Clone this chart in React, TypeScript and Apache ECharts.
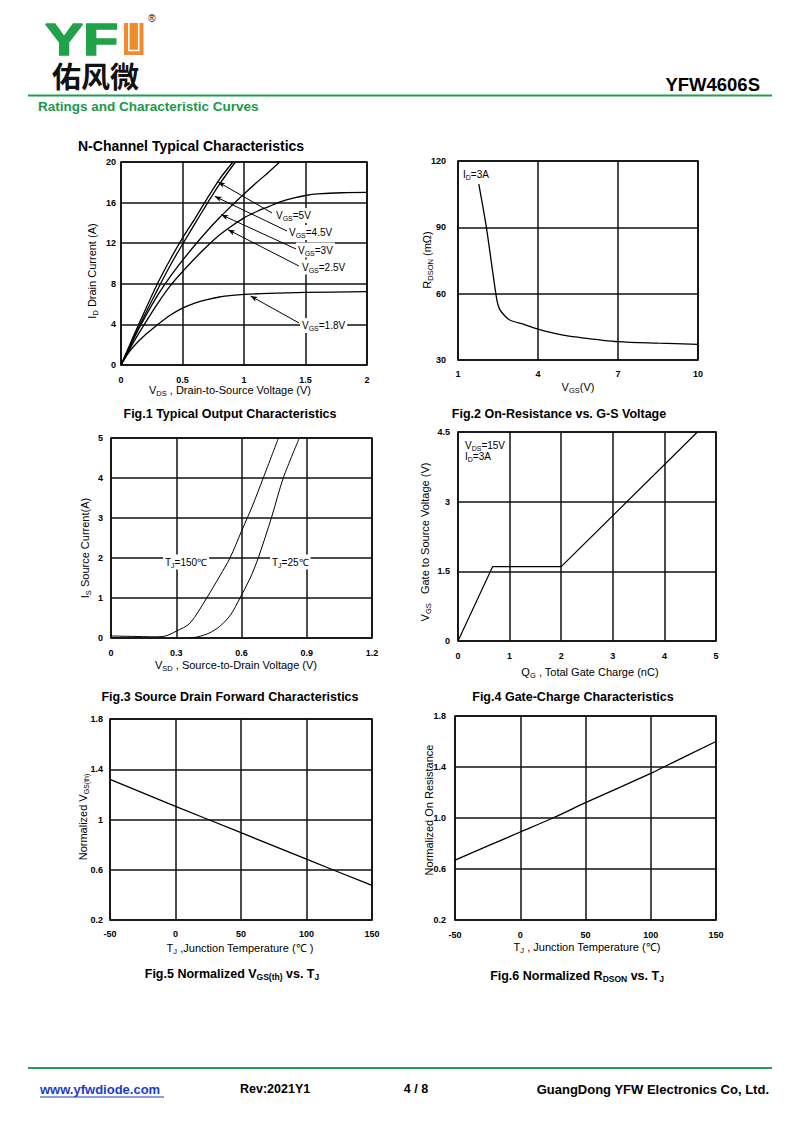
import React, { useEffect, useRef } from "react";
import * as echarts from "echarts";

const FONT = "'Liberation Sans', Arial, sans-serif";
const GREEN = "#1f9d50";
const GREEN_TEXT = "#179a48";
const ORANGE = "#f08a2a";

// ---------- Fig.1 Typical Output Characteristics ----------
const fig1Vds5 = [0, 0.1, 0.2, 0.3, 0.4, 0.5, 0.6, 0.7, 0.8, 0.91];
const fig1Id5 = [0, 2.8, 5.5, 8.1, 10.4, 12.5, 14.4, 16.4, 18.3, 20];
const fig1Vds45 = [0, 0.1, 0.2, 0.3, 0.4, 0.5, 0.6, 0.7, 0.8, 0.93];
const fig1Id45 = [0, 2.6, 5.1, 7.5, 9.8, 11.9, 13.9, 15.9, 17.8, 20];
const fig1Vds3 = [0, 0.1, 0.2, 0.3, 0.4, 0.5, 0.6, 0.7, 0.8, 0.9, 1.0, 1.1, 1.2, 1.29];
const fig1Id3 = [0, 2.5, 4.8, 6.9, 8.7, 10.3, 11.8, 13.2, 14.5, 15.7, 16.85, 17.95, 19.0, 20];
const fig1Vds25 = [0, 0.1, 0.2, 0.3, 0.4, 0.5, 0.6, 0.7, 0.8, 0.9, 1.0, 1.1, 1.2, 1.3, 1.4, 1.5, 1.6, 1.8, 2.0];
const fig1Id25 = [0, 2.2, 4.2, 6.1, 7.8, 9.2, 10.5, 11.7, 12.8, 13.7, 14.5, 15.1, 15.6, 16.1, 16.45, 16.7, 16.85, 16.97, 17.0];
const fig1Vds18 = [0, 0.05, 0.1, 0.2, 0.3, 0.4, 0.5, 0.6, 0.7, 0.8, 0.9, 1.0, 1.2, 1.5, 2.0];
const fig1Id18 = [0, 1.0, 1.8, 3.0, 4.0, 4.9, 5.6, 6.1, 6.45, 6.7, 6.85, 6.95, 7.05, 7.15, 7.22];
// arrows: [tailX, tailY, tipX, tipY]
const fig1Arrows = [
  [1.228, 14.98, 0.789, 18.03],
  [1.35, 13.2, 0.762, 16.62],
  [1.423, 11.43, 0.815, 14.81],
  [1.447, 9.75, 0.87, 13.33],
  [1.447, 4.14, 1.053, 6.8],
];
const fig1Labels = ["=5V", "=4.5V", "=3V", "=2.5V", "=1.8V"];
const fig1XTicks = ["0", "0.5", "1", "1.5", "2"];
const fig1YTicks = ["0", "4", "8", "12", "16", "20"];

// ---------- Fig.2 On-Resistance vs. G-S Voltage ----------
const fig2Vgs = [1.78, 2.06, 2.3, 2.46, 2.56, 2.75, 2.94, 3.5, 4, 4.8, 5.5, 7, 8.5, 10];
const fig2Rdson = [109.5, 90.3, 70, 57, 53, 50, 48.1, 46, 44, 41.6, 40.3, 38.3, 37.6, 37.1];
const fig2XTicks = ["1", "4", "7", "10"];
const fig2YTicks = ["30", "60", "90", "120"];

// ---------- Fig.3 Source Drain Forward Characteristics ----------
const fig3Vsd150 = [0, 0.1, 0.2, 0.25, 0.3, 0.363, 0.44, 0.5, 0.547, 0.6, 0.65, 0.7, 0.77];
const fig3Is150 = [0.05, 0.04, 0.03, 0.05, 0.17, 0.37, 1.0, 1.55, 2.0, 2.67, 3.3, 4.0, 5.0];
const fig3Vsd25 = [0.36, 0.4, 0.45, 0.5, 0.55, 0.593, 0.64, 0.677, 0.74, 0.792, 0.866];
const fig3Is25 = [0, 0.03, 0.12, 0.29, 0.58, 1.0, 1.5, 2.0, 3.05, 4.0, 5.0];
const fig3XTicks = ["0", "0.3", "0.6", "0.9", "1.2"];
const fig3YTicks = ["0", "1", "2", "3", "4", "5"];

// ---------- Fig.4 Gate-Charge Characteristics ----------
const fig4Qg = [0, 0.67, 2.0, 4.64];
const fig4Vgs = [0, 1.6, 1.6, 4.5];
const fig4XTicks = ["0", "1", "2", "3", "4", "5"];
const fig4YTicks = ["0", "1.5", "3", "4.5"];

// ---------- Fig.5 Normalized VGS(th) vs. TJ ----------
const fig5Tj = [-50, 0, 25, 50, 100, 120, 150];
const fig5Vth = [1.32, 1.105, 1.0, 0.895, 0.685, 0.6, 0.475];
const fig5XTicks = ["-50", "0", "50", "100", "150"];
const fig5YTicks = ["0.2", "0.6", "1", "1.4", "1.8"];

// ---------- Fig.6 Normalized RDSON vs. TJ ----------
const fig6Tj = [-50, 0, 25, 50, 100, 110, 150];
const fig6Rdson = [0.67, 0.89, 1.0, 1.12, 1.35, 1.4, 1.6];
const fig6XTicks = ["-50", "0", "50", "100", "150"];
const fig6YTicks = ["0.2", "0.6", "1.0", "1.4", "1.8"];

const grids = [
  { left: 121, top: 162, width: 246, height: 203 },
  { left: 458, top: 161, width: 240, height: 199 },
  { left: 111, top: 438, width: 261, height: 200 },
  { left: 458, top: 432, width: 258, height: 209 },
  { left: 110, top: 719, width: 262, height: 201 },
  { left: 455, top: 716, width: 261, height: 204 },
];

const axesSpec = [
  { x: [0, 2, 0.5, fig1XTicks, 10], y: [0, 20, 4, fig1YTicks, 5] },
  { x: [1, 10, 3, fig2XTicks, 9], y: [30, 120, 30, fig2YTicks, 12] },
  { x: [0, 1.2, 0.3, fig3XTicks, 10], y: [0, 5, 1, fig3YTicks, 8] },
  { x: [0, 5, 1, fig4XTicks, 10], y: [0, 4.5, 1.5, fig4YTicks, 8] },
  { x: [-50, 150, 50, fig5XTicks, 9], y: [0.2, 1.8, 0.4, fig5YTicks, 7] },
  { x: [-50, 150, 50, fig6XTicks, 10], y: [0.2, 1.8, 0.4, fig6YTicks, 9] },
];

function makeAxis(i: number, spec: any[]) {
  const [min, max, interval, ticks, margin] = spec;
  return {
    type: "value",
    gridIndex: i,
    min,
    max,
    interval,
    axisLine: { show: false },
    axisTick: { show: false },
    splitLine: { show: true, lineStyle: { color: "#111", width: 1.5 } },
    axisLabel: {
      margin,
      fontSize: 9,
      fontWeight: "bold",
      fontFamily: FONT,
      color: "#000",
      formatter: (v: number) => ticks[Math.round((v - min) / interval)] ?? "",
    },
  };
}

function lineSeries(i: number, xs: number[], ys: number[], smooth: any, extra: any = {}) {
  return {
    type: "line",
    xAxisIndex: i,
    yAxisIndex: i,
    data: xs.map((x, k) => [x, ys[k]]),
    showSymbol: false,
    symbol: "none",
    smooth,
    silent: true,
    z: 3,
    lineStyle: { color: "#000", width: 1.3 },
    ...extra,
  };
}

const rich = (n: number, s: number, bold = false) => ({
  n: { fontSize: n, lineHeight: n + 3, fontFamily: FONT, fontWeight: bold ? "bold" : "normal", fill: "#000" },
  s: { fontSize: s, lineHeight: s + 1, fontFamily: FONT, fontWeight: bold ? "bold" : "normal", fill: "#000", verticalAlign: "bottom" },
});

function txt(x: number, y: number, text: string, o: any = {}) {
  const { size = 11, sub = 7.5, bold = false, align = "center", vAlign = "middle", rotation = 0, fill = "#000", bg, family = FONT } = o;
  const style: any = {
    text,
    fontSize: size,
    fontFamily: family,
    fontWeight: bold ? "bold" : "normal",
    fill,
    align,
    verticalAlign: vAlign,
    rich: rich(size, sub, bold),
  };
  if (bg) {
    style.backgroundColor = bg;
    style.padding = [1, 2, 1, 2];
  }
  if (fill !== "#000") {
    style.rich.n.fill = fill;
    style.rich.s.fill = fill;
  }
  return { type: "text", x, y, rotation, z: 100, style, silent: true };
}

function hline(x1: number, x2: number, y: number, color: string, w: number) {
  return { type: "line", z: 100, silent: true, shape: { x1, y1: y, x2, y2: y }, style: { stroke: color, lineWidth: w } };
}

const option: any = {
  animation: false,
  backgroundColor: "#fff",
  grid: grids.map((g) => ({ ...g, show: true, borderColor: "#000", borderWidth: 1.6, backgroundColor: "transparent", containLabel: false })),
  xAxis: axesSpec.map((a, i) => makeAxis(i, a.x)),
  yAxis: axesSpec.map((a, i) => makeAxis(i, a.y)),
  series: [
    lineSeries(0, fig1Vds5, fig1Id5, 0.2, {
      markLine: {
        silent: true,
        symbol: ["none", "arrow"],
        symbolSize: [4, 7],
        label: { show: false },
        lineStyle: { color: "#000", width: 1, type: "solid" },
        data: fig1Arrows.map((a) => [{ coord: [a[0], a[1]] }, { coord: [a[2], a[3]] }]),
      },
    }),
    lineSeries(0, fig1Vds45, fig1Id45, 0.2),
    lineSeries(0, fig1Vds3, fig1Id3, 0.3),
    lineSeries(0, fig1Vds25, fig1Id25, 0.3),
    lineSeries(0, fig1Vds18, fig1Id18, 0.3),
    lineSeries(1, fig2Vgs, fig2Rdson, 0.3),
    lineSeries(2, fig3Vsd150, fig3Is150, 0.3, { lineStyle: { color: "#000", width: 1 } }),
    lineSeries(2, fig3Vsd25, fig3Is25, 0.3, { lineStyle: { color: "#000", width: 1 } }),
    lineSeries(3, fig4Qg, fig4Vgs, false, { lineStyle: { color: "#000", width: 1.2 } }),
    lineSeries(4, fig5Tj, fig5Vth, false),
    lineSeries(5, fig6Tj, fig6Rdson, 0.3),
  ],
  graphic: [
    // logo
    {
      type: "text", x: 45, y: 40, scaleX: 1.3, z: 100, silent: true,
      style: { text: "YF", fontSize: 44, fontWeight: "bold", fontFamily: FONT, fill: "#21a249", stroke: "#21a249", lineWidth: 1.6, verticalAlign: "middle" },
    },
    { type: "rect", z: 100, silent: true, shape: { x: 124, y: 23, width: 19.5, height: 32 }, style: { fill: ORANGE } },
    {
      type: "polyline", z: 101, silent: true,
      shape: { points: [[128.8, 23], [128.8, 50.5], [138.7, 50.5], [138.7, 23]] },
      style: { stroke: "#fff", lineWidth: 1.6, fill: "none" },
    },
    txt(152, 18, "®", { size: 10 }),
    txt(52, 75, "佑风微", { size: 29, bold: true, align: "left", family: "'Noto Sans CJK SC', sans-serif", fill: "#111" }),
    txt(760, 84, "YFW4606S", { size: 18.5, bold: true, align: "right" }),
    hline(28, 772, 95.5, GREEN, 2),
    txt(38, 106, "Ratings and Characteristic Curves", { size: 13.5, bold: true, align: "left", fill: GREEN_TEXT }),
    txt(78, 146, "N-Channel Typical Characteristics", { size: 14, bold: true, align: "left" }),

    // Fig.1 texts
    txt(230, 390, "{n|V}{s|DS}{n| , Drain-to-Source Voltage (V)}", { size: 11 }),
    txt(92, 271, "{n|I}{s|D}{n| Drain Current (A)}", { size: 11, rotation: Math.PI / 2 }),
    ...fig1Labels.map((l, k) =>
      txt([274, 287, 296, 300, 300][k], [215.5, 232.5, 250, 267, 325.5][k], "{n|V}{s|GS}{n|" + l + "}", { size: 10, sub: 7, align: "left", bg: "#fff" })
    ),
    txt(230, 414, "Fig.1 Typical Output Characteristics", { size: 12.5, bold: true }),

    // Fig.2 texts
    txt(463, 174, "{n|I}{s|D}{n|=3A}", { size: 10, sub: 7, align: "left" }),
    txt(578, 387, "{n|V}{s|GS}{n|(V)}", { size: 11 }),
    txt(427, 260, "{n|R}{s|DSON}{n| (mΩ)}", { size: 11, rotation: Math.PI / 2 }),
    txt(559, 414, "Fig.2 On-Resistance vs. G-S Voltage", { size: 12.5, bold: true }),

    // Fig.3 texts
    txt(163, 562, "{n|T}{s|J}{n|=150℃}", { size: 10, sub: 7, align: "left", bg: "#fff" }),
    txt(270, 562, "{n|T}{s|J}{n|=25℃}", { size: 10, sub: 7, align: "left", bg: "#fff" }),
    txt(236, 665, "{n|V}{s|SD}{n| , Source-to-Drain Voltage (V)}", { size: 11 }),
    txt(85, 548, "{n|I}{s|S}{n| Source Current(A)}", { size: 11, rotation: Math.PI / 2 }),
    txt(230, 697, "Fig.3 Source Drain Forward Characteristics", { size: 12.5, bold: true }),

    // Fig.4 texts
    txt(465, 445, "{n|V}{s|DS}{n|=15V}", { size: 10, sub: 7, align: "left" }),
    txt(465, 456, "{n|I}{s|D}{n|=3A}", { size: 10, sub: 7, align: "left" }),
    txt(590, 672, "{n|Q}{s|G}{n| , Total Gate Charge (nC)}", { size: 11 }),
    txt(425, 542, "{n|V}{s|GS}{n|   Gate to Source Voltage (V)}", { size: 11, rotation: Math.PI / 2 }),
    txt(573, 697, "Fig.4 Gate-Charge Characteristics", { size: 12.5, bold: true }),

    // Fig.5 texts
    txt(240, 948, "{n|T}{s|J}{n| ,Junction Temperature (℃ )}", { size: 11 }),
    txt(83, 817, "{n|Normalized V}{s|GS(th)}", { size: 11, sub: 7, rotation: Math.PI / 2 }),
    txt(232, 974, "{n|Fig.5 Normalized V}{s|GS(th)}{n| vs. T}{s|J}", { size: 12.5, sub: 8.5, bold: true }),

    // Fig.6 texts
    txt(587, 947, "{n|T}{s|J}{n| , Junction Temperature (℃)}", { size: 11 }),
    txt(429, 810, "Normalized On Resistance", { size: 11, rotation: Math.PI / 2 }),
    txt(577, 976, "{n|Fig.6 Normalized R}{s|DSON}{n| vs. T}{s|J}", { size: 12.5, sub: 8.5, bold: true }),

    // footer
    hline(28, 772, 1068, GREEN, 2),
    txt(40, 1089, "www.yfwdiode.com", { size: 13, bold: true, align: "left", fill: "#1a3cc8" }),
    hline(40, 164, 1097, "#1a3cc8", 1),
    txt(240, 1089, "Rev:2021Y1", { size: 12.5, bold: true, align: "left" }),
    txt(416, 1089, "4 / 8", { size: 12.5, bold: true }),
    txt(769, 1089, "GuangDong YFW Electronics Co, Ltd.", { size: 13, bold: true, align: "right" }),
  ],
};

export default function App() {
  const ref = useRef<HTMLDivElement>(null);
  useEffect(() => {
    const chart = echarts.init(ref.current!, null, { renderer: "svg" });
    chart.setOption(option);
    return () => chart.dispose();
  }, []);
  return (
    <div
      ref={ref}
      style={{ position: "absolute", left: 0, top: 0, width: 800, height: 1130, background: "#fff" }}
    />
  );
}
